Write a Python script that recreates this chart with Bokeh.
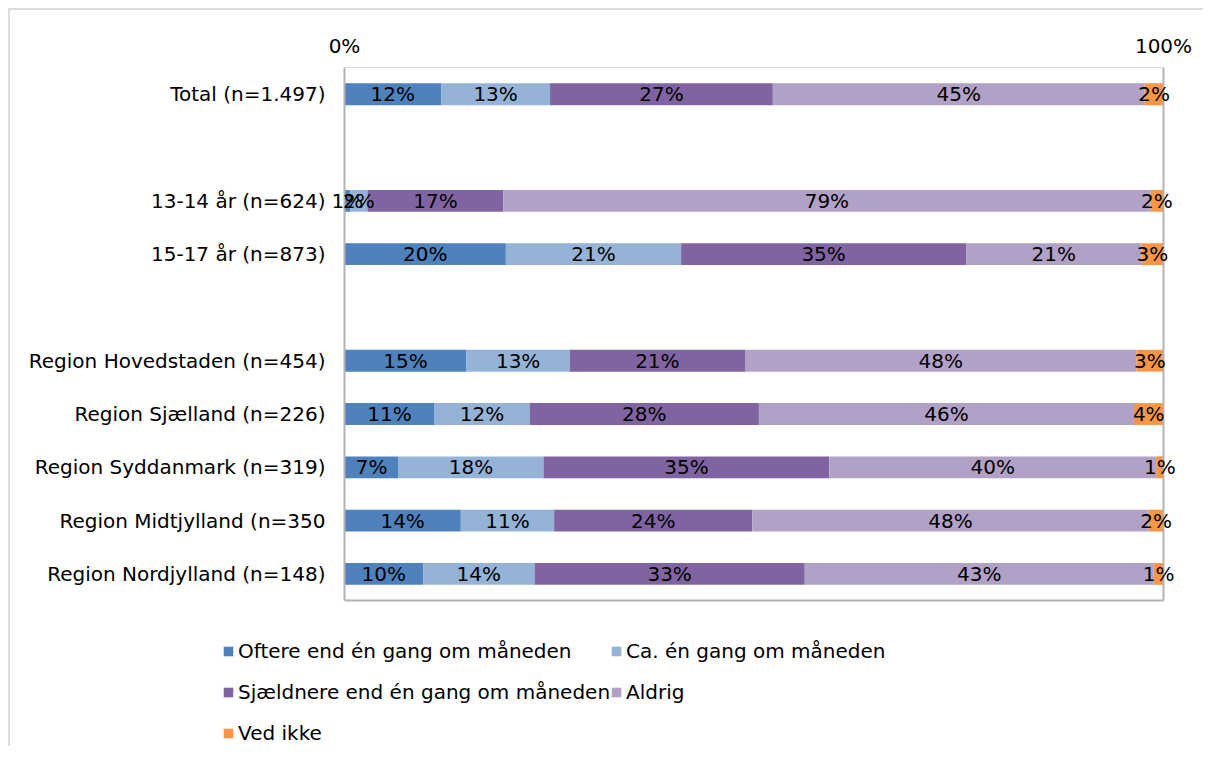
from bokeh.plotting import figure
from bokeh.models import (ColumnDataSource, Range1d, FixedTicker, PrintfTickFormatter,
                          Legend, LegendItem)
from bokeh.core.properties import value
from bokeh.embed import file_html
from bokeh.resources import INLINE

# ---- data ----
categories = ["Total (n=1.497)", "", "13-14 år (n=624)", "15-17 år (n=873)", "",
              "Region Hovedstaden (n=454)", "Region Sjælland (n=226)",
              "Region Syddanmark (n=319)", "Region Midtjylland (n=350",
              "Region Nordjylland (n=148)"]
series_names = ["Oftere end én gang om måneden", "Ca. én gang om måneden",
                "Sjældnere end én gang om måneden", "Aldrig", "Ved ikke"]
oftere     = [11.8, 0, 0.7, 19.7, 0, 14.9, 11.0, 6.6, 14.2, 9.6]
ca_en      = [13.3, 0, 2.1, 21.4, 0, 12.6, 11.6, 17.7, 11.4, 13.6]
sjaeldnere = [27.2, 0, 16.6, 34.8, 0, 21.4, 28.0, 34.9, 24.2, 33.0]
aldrig     = [45.4, 0, 79.0, 21.4, 0, 47.8, 45.8, 39.9, 48.4, 42.6]
ved_ikke   = [2.3, 0, 1.6, 2.7, 0, 3.3, 3.6, 0.9, 1.8, 1.2]
colors = ["#4F81BD", "#95B3D7", "#8064A2", "#B2A1C7", "#F79646"]
x_ticks = [0, 100]

FONT = "DejaVu Sans"
FS = "20px"

W, H = 1195, 738          # canvas size (page origin at 10,10)
PLOT_L, PLOT_R = 334, 1153  # plot-area edges on the canvas (px)
TOP = 56                    # frame top on the canvas
SLOT = 53.3                 # px per category slot

n = len(categories)
pos = list(range(n))
keys = ["s0", "s1", "s2", "s3", "s4"]
series = [oftere, ca_en, sjaeldnere, aldrig, ved_ikke]
data = {"pos": pos}
for k, s in zip(keys, series):
    data[k] = s
src = ColumnDataSource(data)

ppu = (PLOT_R - PLOT_L) / 100.0
x_start = -PLOT_L / ppu
x_end = 100 + (W - PLOT_R) / ppu
y_end = -0.52
y_start = y_end + (H - TOP) / SLOT

p = figure(width=W, height=H, output_backend="svg", toolbar_location=None,
           x_range=Range1d(x_start, x_end), y_range=Range1d(y_start, y_end),
           x_axis_location="above", y_axis_location=None,
           min_border_left=0, min_border_right=0, min_border_top=TOP, min_border_bottom=0)
p.styles = {"border-left": "2px solid #dcdcdc", "border-top": "2px solid #dcdcdc",
            "margin-left": "8px", "margin-top": "8px"}
p.outline_line_color = None
p.grid.visible = False

renderers = p.hbar_stack(keys, y="pos", height=0.41, color=colors, source=src, line_width=0)

# plot-area border
top_edge, bot_edge = -0.5, n - 0.5
p.segment(x0=[0], y0=[top_edge], x1=[100], y1=[top_edge], line_color="#d9d9d9", line_width=1)
p.segment(x0=[0, 100, 0], y0=[top_edge, top_edge, bot_edge],
          x1=[0, 100, 100], y1=[bot_edge, bot_edge, bot_edge],
          line_color="#b3b3b3", line_width=2)

# category labels
lab_x = -19 / ppu
p.text(x=[lab_x] * n, y=pos, text=categories, text_align="right", text_baseline="middle",
       text_font=value(FONT), text_font_size=FS, text_color="#000000")

# segment labels
lx, ly, lt = [], [], []
for i in range(n):
    left = 0.0
    for s in series:
        v = s[i]
        if v > 0:
            lx.append(left + v / 2)
            ly.append(pos[i])
            lt.append("%d%%" % int(v + 0.5))
        left += v
p.text(x=lx, y=ly, text=lt, text_align="center", text_baseline="middle",
       text_font=value(FONT), text_font_size=FS, text_color="#000000")

# top axis with 0% / 100%
p.xaxis.ticker = FixedTicker(ticks=x_ticks)
p.xaxis.formatter = PrintfTickFormatter(format="%d%%")
p.xaxis.axis_line_color = None
p.xaxis.major_tick_line_color = None
p.xaxis.minor_tick_line_color = None
p.xaxis.major_label_text_font = FONT
p.xaxis.major_label_text_font_size = FS
p.xaxis.major_label_text_color = "#000000"
p.xaxis.major_label_standoff = 3

# legend (row-major order: col1 = items 0,2,4 ; col2 = items 1,3)
order = [0, 2, 4, 1, 3]
items = [LegendItem(label=series_names[i], renderers=[renderers[i]]) for i in order]
legend = Legend(items=items, ncols=2, location=(212, -5), orientation="vertical",
                label_text_font=FONT, label_text_font_size=FS, label_text_color="#000000",
                glyph_width=12, glyph_height=12, label_standoff=4, spacing=0,
                label_height=41, padding=0, margin=0,
                border_line_color=None, background_fill_alpha=0)
p.add_layout(legend, "center")

open("out.html", "w").write(file_html(p, INLINE))
